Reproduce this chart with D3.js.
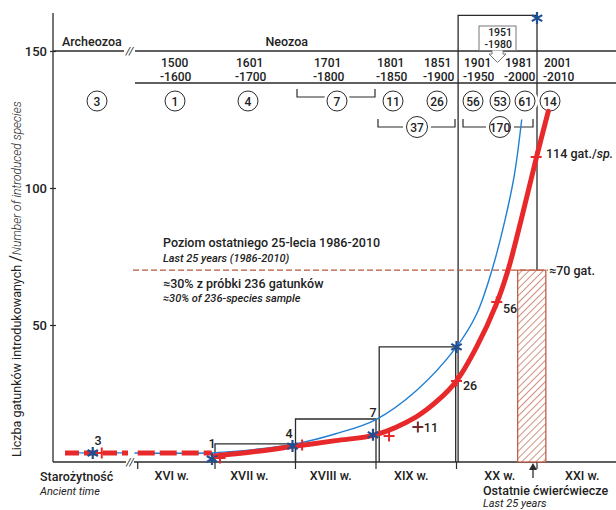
<!DOCTYPE html>
<html><head><meta charset="utf-8">
<script src="https://cdn.jsdelivr.net/npm/d3@7"></script>
<style>
body{margin:0;background:#fff;}
text{font-family:Roboto,"DejaVu Sans",sans-serif;fill:#222;}
</style></head>
<body><svg id="c" width="616" height="510"></svg>
<script>
// ---------- data ----------
const yTicks = [50, 100, 150];
const centuryNames = ["XVI w.", "XVII w.", "XVIII w.", "XIX w.", "XX w.", "XXI w."];
const centuryStarts = [1500, 1600, 1700, 1800, 1900, 2000, 2100];
const periodTop = [["1500","-1600"],["1601","-1700"],["1701","-1800"],["1801","-1850"],["1851","-1900"],["1901","-1950"],["1981","-2000"],["2001","-2010"]];
const periodCounts = [3, 1, 4, 7, 11, 26, 56, 53, 61, 14];
const groupCounts = [37, 170];
// step boxes: [fromYear, toYear, value]
const boxFrom = [1600, 1700, 1804, 1902];
const boxTo   = [1700, 1800, 1899, 2000];
const boxVal  = [6.6, 15.7, 42, 163];
// blue asterisks (century totals)
const starYears = [1600, 1700, 1800, 1900, 2000];
const starVals  = [1.1, 5.8, 9.9, 42, 162];
const ancientStarVal = 3.3;
// red plus markers
const plusYears = [1600, 1702, 1810, 1900, 1950, 1999];
const plusVals  = [1.5, 6.2, 9.5, 29.6, 58.4, 111.3];
const plusLabels = ["1", "4", "7", "26", "56", "114 gat./sp."];
const ancientPlusVal = 3.3;
const extraPlus = {year: 1852, val: 12.8, label: "11"};
// blue curve
const blueYears = [1500, 1600, 1650, 1700, 1750, 1800, 1850, 1900, 1925, 1944, 1960, 1972, 1981];
const blueVals  = [3.3, 3.4, 4.6, 6.6, 10.3, 15.5, 26, 42, 54, 70, 88, 105, 125];
// red curve (solid)
const redYears = [1600, 1650, 1700, 1750, 1800, 1850, 1875, 1900, 1925, 1950, 1964, 1980, 2000, 2014];
const redVals  = [2.2, 3.8, 5.8, 7.8, 10, 16.5, 22, 29.6, 42, 58, 70, 88, 112, 128];
// red dashed early level
const redDashVal = 3.3;
// last 25 years
const lastLevel = 70;
const lastFrom = 1976, lastTo = 2011;

// ---------- layout ----------
const svg = d3.select("#c");
const W = 616;
const x = d3.scaleLinear().domain([1600, 2000]).range([215, 537]);
const y = d3.scaleLinear().domain([0, 150]).range([462, 51]);
const xa = d3.scaleLinear().domain([0, 100]).range([53, 128]); // ancient segment
const ink = "#2b2b2b", red = "#e8292b", blue = "#1f7fd4", star = "#1f4f91", brick = "#b9543c";
const fnt = 'Roboto,"DejaVu Sans",sans-serif';
const FS = "12.5px";

// hatch pattern
const defs = svg.append("defs");
const pat = defs.append("pattern").attr("id","hatch").attr("patternUnits","userSpaceOnUse")
  .attr("width",5).attr("height",5).attr("patternTransform","rotate(45)");
pat.append("line").attr("x1",0).attr("y1",0).attr("x2",0).attr("y2",5).attr("stroke",brick).attr("stroke-width",1.3);

// axes lines
svg.append("line").attr("x1",53).attr("x2",53).attr("y1",13).attr("y2",y(0)).attr("stroke",ink).attr("stroke-width",1.3);
svg.append("line").attr("x1",53).attr("x2",126).attr("y1",y(0)).attr("y2",y(0)).attr("stroke",ink).attr("stroke-width",1.3);
svg.append("line").attr("x1",134).attr("x2",W).attr("y1",y(0)).attr("y2",y(0)).attr("stroke",ink).attr("stroke-width",1.3);
svg.append("text").attr("x",130).attr("y",y(0)+4).attr("text-anchor","middle").style("font-size","11px").style("font-style","italic").text("//");

const yAxis = d3.axisLeft(y).tickValues(yTicks).tickSize(6).tickPadding(3);
const ya = svg.append("g").attr("transform","translate(56,0)").call(yAxis);
ya.select(".domain").remove();
ya.selectAll("line").attr("stroke",ink).attr("stroke-width",1.2);
ya.selectAll("text").style("font-family",fnt).style("font-size","13px").style("font-weight","500").attr("fill","#222");

// x ticks
svg.selectAll(".xt").data([1504].concat(centuryStarts.slice(1,6))).enter().append("line")
  .attr("x1",d=>x(d)).attr("x2",d=>x(d)).attr("y1",y(0)).attr("y2",y(0)+7).attr("stroke",ink).attr("stroke-width",1.2);

// century labels
svg.selectAll(".cl").data(centuryNames).enter().append("text")
  .attr("x",(d,i)=>x((centuryStarts[i]+centuryStarts[i+1])/2) - [3,6,5,5,-3,-5][i])
  .attr("y",480).attr("text-anchor","middle").style("font-size",FS).style("font-weight","500").text(d=>d);
svg.append("text").attr("x",40).attr("y",481).style("font-size",FS).style("font-weight","500").text("Starożytność");
svg.append("text").attr("x",40).attr("y",495).style("font-size","11px").style("font-style","italic").text("Ancient time");
svg.append("text").attr("x",483).attr("y",495).style("font-size",FS).style("font-weight","500").text("Ostatnie ćwierćwiecze");
svg.append("text").attr("x",483).attr("y",507).style("font-size","11px").style("font-style","italic").text("Last 25 years");
// arrow
svg.append("line").attr("x1",533).attr("x2",533).attr("y1",478).attr("y2",468).attr("stroke",ink).attr("stroke-width",1.3);
svg.append("path").attr("d","M529,470 L533,463 L537,470 Z").attr("fill",ink);

// y-axis title
const yt = svg.append("text").attr("transform","translate(21,457) rotate(-90)");
yt.append("tspan").style("font-size","12.5px").text("Liczba gatunków introdukowanych ");
yt.append("tspan").style("font-size","16px").text("/");
yt.append("tspan").style("font-size","12px").style("font-style","italic").style("font-weight","300").text("Number of introduced species");

// ---------- header ----------
svg.append("line").attr("x1",53).attr("x2",124).attr("y1",51).attr("y2",51).attr("stroke",ink).attr("stroke-width",1.3);
svg.append("line").attr("x1",135).attr("x2",W).attr("y1",51).attr("y2",51).attr("stroke",ink).attr("stroke-width",1.3);
svg.append("text").attr("x",129.5).attr("y",55).attr("text-anchor","middle").style("font-size","11px").style("font-style","italic").text("//");
svg.append("line").attr("x1",135).attr("x2",W).attr("y1",83).attr("y2",83).attr("stroke",ink).attr("stroke-width",1.3);
svg.append("text").attr("x",62).attr("y",46).style("font-size",FS).style("font-weight","500").text("Archeozoa");
svg.append("text").attr("x",308).attr("y",46).attr("text-anchor","end").style("font-size",FS).style("font-weight","500").text("Neozoa");

const ptX = [160, 235, 313, 376, 423, 463, 504, 543];
periodTop.forEach((p,i)=>{
  svg.append("text").attr("x",ptX[i]+1).attr("y",67).style("font-size","12px").style("font-weight","500").text(p[0]);
  svg.append("text").attr("x",ptX[i]).attr("y",80.5).style("font-size","12px").style("font-weight","500").text(p[1]);
});

// brackets
const brk = [[297,375,97,89],[378,455,127,119],[463,533,127,119]];
brk.forEach(b=>{
  svg.append("path").attr("d",`M${b[0]},${b[3]}V${b[2]}H${b[1]}V${b[3]}`).attr("fill","none").attr("stroke",ink).attr("stroke-width",1.2);
});

// ---------- step boxes ----------
boxVal.forEach((v,i)=>{
  svg.append("path").attr("d",`M${x(boxFrom[i])},${y(0)}V${y(v)}H${x(boxTo[i])}V${y(0)}`)
    .attr("fill","none").attr("stroke",ink).attr("stroke-width",1.3);
});

// box 1951-1980 with arrow
svg.append("rect").attr("x",479).attr("y",26).attr("width",37).attr("height",24.5).attr("fill","#fff").attr("stroke","#777").attr("stroke-width",1);
svg.append("text").attr("x",512).attr("y",36).attr("text-anchor","end").style("font-size","10.5px").style("font-weight","500").text("1951");
svg.append("text").attr("x",512).attr("y",48).attr("text-anchor","end").style("font-size","10.5px").style("font-weight","500").text("-1980");
svg.append("path").attr("d","M492,50.5 V54 H489 L497.5,62.5 L506,54 H503 V50.5").attr("fill","#fff").attr("stroke","#777").attr("stroke-width",1);

// circles
const circX = [97, 175, 248, 337, 393, 437, 473, 500, 525, 550];
periodCounts.forEach((c,i)=>{
  svg.append("circle").attr("cx",circX[i]).attr("cy",101).attr("r",13).attr("fill","#fff");
  svg.append("circle").attr("cx",circX[i]).attr("cy",101).attr("r",10).attr("fill","#fff").attr("stroke",ink).attr("stroke-width",1);
  svg.append("text").attr("x",circX[i]).attr("y",105.5).attr("text-anchor","middle").style("font-size","12px").style("font-weight","500").text(c);
});
const gX = [417, 500];

// ---------- last 25 years ----------
svg.append("line").attr("x1",133).attr("x2",x(lastTo)+2).attr("y1",y(lastLevel)).attr("y2",y(lastLevel))
  .attr("stroke",brick).attr("stroke-width",1.2).attr("stroke-dasharray","6,3");
svg.append("rect").attr("x",x(lastFrom)).attr("y",y(lastLevel)).attr("width",x(lastTo)-x(lastFrom)).attr("height",y(0)-y(lastLevel))
  .attr("fill","#fff");
svg.append("rect").attr("x",x(lastFrom)).attr("y",y(lastLevel)).attr("width",x(lastTo)-x(lastFrom)).attr("height",y(0)-y(lastLevel))
  .attr("fill","url(#hatch)").attr("stroke",brick).attr("stroke-width",1.2);
svg.append("text").attr("x",549).attr("y",y(lastLevel)+5).style("font-size",FS).style("font-weight","500").text("≈70 gat.");

svg.append("text").attr("x",163).attr("y",247).style("font-size",FS).style("font-weight","500").text("Poziom ostatniego 25-lecia 1986-2010");
svg.append("text").attr("x",163).attr("y",262).style("font-size","11px").style("font-style","italic").style("font-weight","500").text("Last 25 years (1986-2010)");
svg.append("text").attr("x",163).attr("y",288).style("font-size",FS).style("font-weight","500").text("≈30% z próbki 236 gatunków");
svg.append("text").attr("x",163).attr("y",302).style("font-size","11px").style("font-style","italic").style("font-weight","500").text("≈30% of 236-species sample");

// ---------- curves ----------
const line = d3.line().x(d=>x(d[0])).y(d=>y(d[1])).curve(d3.curveCatmullRom.alpha(0.5));
// blue thin early (ancient)
svg.append("line").attr("x1",xa(16)).attr("x2",xa(100)).attr("y1",y(redDashVal)).attr("y2",y(redDashVal)).attr("stroke",blue).attr("stroke-width",1.3);
svg.append("path").attr("d",line(blueYears.map((d,i)=>[d,blueVals[i]]))).attr("fill","none").attr("stroke",blue).attr("stroke-width",1.4);
// red dashed early
svg.append("line").attr("x1",xa(16)).attr("x2",xa(100)).attr("y1",y(redDashVal)).attr("y2",y(redDashVal))
  .attr("stroke",red).attr("stroke-width",5).attr("stroke-dasharray","14,5");
svg.append("line").attr("x1",x(1504)).attr("x2",x(1596)).attr("y1",y(redDashVal)).attr("y2",y(redDashVal))
  .attr("stroke",red).attr("stroke-width",5).attr("stroke-dasharray","17,5");
svg.append("path").attr("d",line(redYears.map((d,i)=>[d,redVals[i]]))).attr("fill","none").attr("stroke",red).attr("stroke-width",5).attr("stroke-linecap","round");

// group circles (drawn over blue curve)
groupCounts.forEach((c,i)=>{
  svg.append("circle").attr("cx",gX[i]).attr("cy",127).attr("r",14).attr("fill","#fff");
  svg.append("circle").attr("cx",gX[i]).attr("cy",127).attr("r",10.5).attr("fill","#fff").attr("stroke",ink).attr("stroke-width",1);
  svg.append("text").attr("x",gX[i]).attr("y",131.5).attr("text-anchor","middle").style("font-size","12px").style("font-weight","500").text(c);
});

// ---------- markers ----------
function asterisk(cx, cy, r){
  const p = d3.path();
  for(let k=0;k<3;k++){
    const a = Math.PI/2 + k*Math.PI/3;
    p.moveTo(cx+r*Math.cos(a), cy+r*Math.sin(a));
    p.lineTo(cx-r*Math.cos(a), cy-r*Math.sin(a));
  }
  return p.toString();
}
function plus(cx, cy, r){ return `M${cx-r},${cy}H${cx+r}M${cx},${cy-r}V${cy+r}`; }

starYears.forEach((d,i)=>{
  svg.append("path").attr("d",asterisk(x(d)-(i<3?3:0), y(starVals[i]), 6)).attr("stroke",star).attr("stroke-width",2.2).attr("fill","none");
});
svg.append("path").attr("d",asterisk(xa(53), y(ancientStarVal), 6)).attr("stroke",star).attr("stroke-width",2.2).attr("fill","none");

plusYears.forEach((d,i)=>{
  svg.append("path").attr("d",plus(x(d)+(i<3?5:0), y(plusVals[i]), 5.5)).attr("stroke",red).attr("stroke-width",2).attr("fill","none");
});
svg.append("path").attr("d",plus(xa(65), y(ancientPlusVal), 5.5)).attr("stroke",red).attr("stroke-width",2).attr("fill","none");
svg.append("path").attr("d",plus(x(extraPlus.year), y(extraPlus.val), 5.5)).attr("stroke","#7a2a2a").attr("stroke-width",2).attr("fill","none");
svg.append("text").attr("x",x(extraPlus.year)+6).attr("y",y(extraPlus.val)+5.5).style("font-size",FS).style("font-weight","500").text(extraPlus.label);

// point labels
svg.append("text").attr("x",xa(60)).attr("y",445).attr("text-anchor","middle").style("font-size",FS).style("font-weight","500").text("3");
const lbl = [[212,448,"middle"],[289,438,"middle"],[373,417,"middle"],[463,390,"start"],[503,313,"start"],[546,158,"start"]];
plusLabels.forEach((t,i)=>{
  const tx = svg.append("text").attr("x",lbl[i][0]).attr("y",lbl[i][1]).attr("text-anchor",lbl[i][2]).style("font-size",FS).style("font-weight","500");
  if(t.indexOf("sp.")>=0){ tx.append("tspan").text("114 gat./"); tx.append("tspan").style("font-style","italic").text("sp."); }
  else tx.text(t);
});
</script></body></html>
